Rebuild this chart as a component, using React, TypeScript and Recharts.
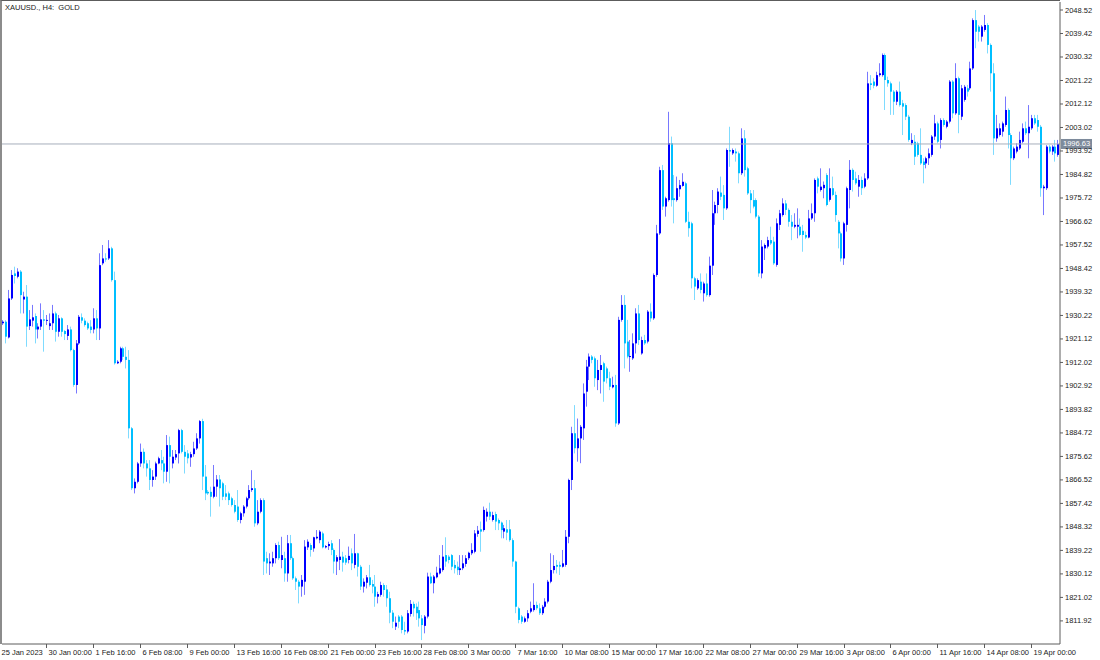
import React from 'react';
import { ComposedChart, Bar, XAxis, YAxis, ReferenceLine } from 'recharts';

const chartTitle = 'XAUUSD., H4:  GOLD';
const lastPrice = 1996.63;

// H4 candles, 25 Jan 2023 -> 20 Apr 2023
const opens = [
  1927.2, 1927.8, 1921.7, 1936.8, 1946.5, 1945.2, 1947.2, 1936.4, 1937.5, 1926.1,
  1928.2, 1930.0, 1924.8, 1925.9, 1928.7, 1928.2, 1926.1, 1927.2, 1931.0, 1923.9,
  1929.1, 1924.2, 1922.3, 1924.8, 1916.8, 1903.3, 1919.4, 1929.5, 1928.2, 1927.2,
  1925.9, 1924.8, 1929.1, 1925.2, 1950.4, 1952.3, 1952.3, 1956.2, 1943.9, 1911.7,
  1912.3, 1917.5, 1914.2, 1913.0, 1886.5, 1863.3, 1865.8, 1872.9, 1877.4, 1872.9,
  1871.0, 1866.5, 1867.8, 1872.9, 1874.2, 1872.9, 1869.7, 1880.0, 1872.9, 1875.2,
  1876.8, 1885.8, 1877.4, 1876.8, 1875.2, 1876.5, 1878.7, 1882.6, 1889.3, 1867.8,
  1861.9, 1861.9, 1860.0, 1863.9, 1866.7, 1865.2, 1861.3, 1861.3, 1859.4, 1856.8,
  1856.2, 1851.0, 1853.6, 1856.2, 1859.4, 1862.6, 1863.3, 1849.7, 1854.2, 1858.7,
  1836.2, 1834.2, 1834.2, 1836.2, 1841.3, 1835.5, 1836.2, 1830.3, 1842.0, 1836.2,
  1828.4, 1827.1, 1825.2, 1827.1, 1840.4, 1841.3, 1840.0, 1843.9, 1843.2, 1845.8,
  1840.4, 1840.9, 1842.0, 1839.4, 1834.9, 1835.5, 1836.8, 1836.2, 1835.5, 1838.1,
  1833.6, 1838.1, 1832.9, 1825.2, 1826.7, 1828.8, 1826.2, 1825.2, 1821.3, 1822.0,
  1825.8, 1824.1, 1820.7, 1815.1, 1809.7, 1813.6, 1813.6, 1808.4, 1807.8, 1814.6,
  1818.5, 1817.4, 1816.1, 1812.9, 1810.0, 1813.6, 1829.1, 1826.5, 1828.8, 1830.3,
  1831.6, 1837.4, 1836.8, 1837.4, 1833.6, 1832.9, 1831.6, 1832.3, 1834.0, 1836.2,
  1838.1, 1838.7, 1845.6, 1847.4, 1847.1, 1852.3, 1854.2, 1851.0, 1853.3, 1851.0,
  1850.0, 1846.5, 1847.4, 1847.4, 1843.2, 1834.9, 1816.8, 1813.6, 1811.6, 1812.9,
  1815.5, 1816.1, 1818.1, 1816.8, 1814.9, 1817.4, 1819.4, 1827.1, 1831.6, 1833.6,
  1833.6, 1832.9, 1833.6, 1844.5, 1866.5, 1884.6, 1878.8, 1882.6, 1886.5, 1900.7,
  1910.4, 1914.3, 1913.6, 1905.2, 1909.1, 1911.7, 1909.7, 1905.9, 1902.4, 1903.3,
  1888.4, 1928.5, 1934.3, 1920.1, 1914.3, 1913.6, 1919.4, 1931.0, 1915.5, 1920.7,
  1920.1, 1931.7, 1929.1, 1945.9, 1962.0, 1986.5, 1972.4, 1974.9, 1996.9, 1975.6,
  1974.9, 1979.1, 1980.4, 1981.4, 1966.5, 1965.9, 1944.6, 1940.7, 1943.3, 1938.8,
  1942.6, 1938.1, 1949.5, 1969.8, 1973.0, 1977.8, 1976.9, 1971.7, 1994.3, 1993.0,
  1993.7, 1993.0, 1985.3, 1998.8, 1987.2, 1977.5, 1974.9, 1974.9, 1968.5, 1946.5,
  1956.2, 1956.9, 1959.4, 1958.8, 1949.8, 1965.3, 1969.1, 1973.6, 1971.1, 1966.5,
  1964.6, 1964.6, 1964.6, 1963.0, 1961.4, 1960.4, 1967.8, 1969.8, 1983.3, 1978.8,
  1979.5, 1984.6, 1975.0, 1979.5, 1976.9, 1966.5, 1962.0, 1952.3, 1965.3, 1978.8,
  1986.6, 1983.3, 1980.1, 1982.7, 1980.1, 1983.3, 2020.1, 2020.8, 2019.2, 2023.3,
  2023.3, 2031.1, 2021.4, 2020.1, 2016.9, 2013.0, 2016.9, 2012.4, 2011.7, 2007.2,
  1996.9, 1997.5, 1996.9, 1992.4, 1989.8, 1989.1, 1991.1, 1992.4, 1999.5, 2004.6,
  1998.2, 2005.9, 2003.3, 2005.3, 2020.8, 2008.5, 2022.1, 2007.2, 2013.7, 2018.2,
  2018.2, 2025.9, 2044.6, 2042.1, 2038.2, 2040.8, 2042.7, 2035.0, 2024.0, 1998.8,
  2000.1, 2001.4, 2004.0, 2009.8, 2000.1, 1991.1, 1993.7, 1994.9, 1997.5, 2002.7,
  2000.8, 2002.7, 2006.6, 2005.9, 2003.3, 1979.5, 1979.5, 1995.6, 1993.7, 1995.6, 1992.4,
];

const highs = [
  1928.4, 1928.4, 1940.1, 1947.8, 1949.1, 1948.5, 1947.8, 1939.4, 1942.0, 1932.3,
  1934.3, 1931.0, 1927.2, 1934.9, 1932.3, 1930.4, 1931.0, 1934.3, 1931.7, 1930.4,
  1929.5, 1924.6, 1926.5, 1925.9, 1917.3, 1920.7, 1930.4, 1931.0, 1929.1, 1927.8,
  1928.4, 1933.0, 1932.3, 1954.3, 1957.5, 1954.3, 1959.4, 1956.8, 1947.2, 1912.9,
  1918.1, 1918.1, 1918.1, 1916.8, 1887.0, 1867.1, 1873.5, 1880.6, 1878.7, 1874.2,
  1874.2, 1870.3, 1873.6, 1875.5, 1878.1, 1875.5, 1883.9, 1883.3, 1878.1, 1878.1,
  1886.3, 1886.3, 1880.0, 1878.1, 1877.4, 1881.3, 1884.6, 1889.7, 1890.2, 1872.3,
  1862.6, 1863.9, 1872.3, 1868.4, 1868.4, 1865.8, 1864.5, 1862.0, 1860.0, 1858.7,
  1862.6, 1854.2, 1856.8, 1860.0, 1864.5, 1870.3, 1866.5, 1858.7, 1859.4, 1859.4,
  1838.7, 1838.1, 1838.7, 1842.0, 1842.6, 1844.5, 1838.7, 1845.2, 1845.2, 1836.8,
  1829.1, 1827.8, 1829.7, 1843.2, 1843.5, 1842.0, 1844.5, 1847.1, 1847.1, 1846.5,
  1841.3, 1842.6, 1843.2, 1840.0, 1837.4, 1843.6, 1838.7, 1837.4, 1840.7, 1840.0,
  1845.6, 1838.3, 1833.6, 1828.4, 1829.7, 1833.6, 1827.8, 1829.7, 1823.2, 1827.1,
  1826.5, 1825.8, 1823.2, 1816.1, 1813.6, 1814.2, 1814.2, 1811.6, 1816.1, 1820.0,
  1819.4, 1818.7, 1819.4, 1814.2, 1814.2, 1830.6, 1830.6, 1829.7, 1832.9, 1837.4,
  1841.3, 1844.3, 1837.4, 1837.8, 1835.5, 1834.9, 1837.4, 1837.4, 1837.4, 1838.7,
  1842.0, 1847.1, 1848.7, 1850.4, 1856.2, 1855.5, 1857.7, 1854.2, 1854.2, 1851.6,
  1850.4, 1849.1, 1851.0, 1851.0, 1843.9, 1835.2, 1817.4, 1814.2, 1813.6, 1816.1,
  1819.4, 1826.5, 1819.4, 1818.7, 1818.1, 1820.7, 1827.8, 1838.1, 1837.4, 1835.5,
  1834.9, 1839.4, 1847.1, 1867.0, 1887.1, 1895.5, 1890.3, 1887.8, 1903.9, 1913.0,
  1915.5, 1914.9, 1914.3, 1913.0, 1914.9, 1912.3, 1910.4, 1908.4, 1906.5, 1907.2,
  1929.7, 1938.1, 1938.1, 1928.5, 1920.7, 1923.3, 1933.0, 1934.3, 1922.0, 1922.7,
  1932.3, 1934.9, 1946.5, 1965.3, 1987.8, 1988.5, 1976.2, 2009.1, 1999.5, 1984.6,
  1984.0, 1982.7, 1985.3, 1982.0, 1970.4, 1966.5, 1945.2, 1944.6, 1946.5, 1943.3,
  1946.5, 1953.0, 1978.8, 1974.3, 1979.5, 1984.0, 1980.7, 1994.9, 2003.3, 1994.9,
  1994.9, 1993.7, 2002.7, 2002.0, 1987.8, 1978.8, 1978.8, 1975.6, 1969.1, 1959.4,
  1958.1, 1960.7, 1964.6, 1960.7, 1967.8, 1971.1, 1975.6, 1974.9, 1971.7, 1969.1,
  1969.8, 1971.7, 1967.8, 1965.3, 1962.7, 1971.1, 1973.6, 1983.3, 1984.0, 1987.2,
  1982.1, 1985.3, 1987.2, 1984.0, 1978.2, 1967.2, 1962.7, 1966.5, 1980.1, 1990.4,
  1987.2, 1985.9, 1984.6, 1984.0, 1985.3, 2024.6, 2023.3, 2022.1, 2024.6, 2027.9,
  2031.7, 2031.7, 2022.7, 2020.8, 2017.5, 2017.5, 2020.8, 2013.7, 2012.4, 2007.9,
  2000.8, 2000.1, 1997.5, 2002.7, 1991.1, 1991.7, 1994.9, 2000.1, 2007.9, 2005.3,
  2006.6, 2006.6, 2005.9, 2021.4, 2021.4, 2027.9, 2022.7, 2019.5, 2019.5, 2019.5,
  2028.5, 2045.3, 2048.5, 2042.7, 2042.7, 2046.6, 2043.4, 2035.6, 2027.9, 2007.9,
  2004.6, 2005.3, 2015.0, 2010.4, 2000.8, 1995.6, 1996.9, 2001.4, 2004.6, 2005.3,
  2011.7, 2007.9, 2007.9, 2007.9, 2004.0, 1980.8, 1996.2, 1996.2, 1996.2, 1998.2, 1998.2,
];

const lows = [
  1926.5, 1919.4, 1921.3, 1936.2, 1942.6, 1944.6, 1931.0, 1931.0, 1918.1, 1924.6,
  1925.9, 1919.4, 1921.3, 1924.6, 1916.2, 1926.5, 1924.6, 1924.6, 1920.1, 1922.0,
  1922.0, 1920.7, 1920.7, 1916.3, 1902.6, 1900.0, 1918.8, 1927.2, 1925.9, 1924.6,
  1923.3, 1923.3, 1920.7, 1920.7, 1949.7, 1951.0, 1951.7, 1943.3, 1911.2, 1911.4,
  1911.7, 1913.0, 1909.7, 1882.6, 1862.6, 1861.3, 1865.2, 1871.6, 1871.0, 1867.8,
  1862.6, 1863.9, 1866.5, 1872.6, 1870.3, 1865.2, 1865.8, 1865.2, 1871.0, 1874.2,
  1872.9, 1876.8, 1869.0, 1872.9, 1871.6, 1875.5, 1878.1, 1880.6, 1862.6, 1858.7,
  1860.7, 1852.3, 1859.4, 1860.0, 1856.2, 1858.7, 1858.7, 1856.8, 1856.2, 1853.6,
  1850.3, 1849.7, 1852.3, 1855.5, 1858.7, 1861.9, 1848.4, 1849.0, 1853.6, 1829.7,
  1830.3, 1829.7, 1832.9, 1834.2, 1835.5, 1832.3, 1827.1, 1827.1, 1835.5, 1827.8,
  1823.9, 1818.7, 1821.3, 1822.0, 1839.4, 1836.8, 1838.7, 1843.5, 1842.0, 1840.0,
  1840.0, 1839.4, 1837.4, 1830.3, 1829.7, 1831.6, 1831.0, 1833.6, 1834.2, 1831.6,
  1832.3, 1829.1, 1823.9, 1822.9, 1824.5, 1825.2, 1822.6, 1817.4, 1818.7, 1821.3,
  1821.3, 1817.4, 1811.0, 1809.1, 1808.4, 1809.1, 1807.1, 1806.5, 1807.1, 1813.6,
  1813.6, 1812.3, 1809.7, 1804.5, 1807.1, 1812.9, 1826.2, 1822.6, 1828.4, 1829.9,
  1831.0, 1832.9, 1834.2, 1831.6, 1830.3, 1829.7, 1829.7, 1831.6, 1832.9, 1835.5,
  1837.4, 1838.1, 1844.5, 1838.7, 1846.5, 1850.4, 1851.0, 1850.4, 1847.1, 1847.1,
  1843.9, 1843.9, 1843.2, 1842.6, 1832.9, 1814.9, 1811.0, 1810.8, 1811.2, 1811.6,
  1814.9, 1815.5, 1816.1, 1814.2, 1814.2, 1816.8, 1818.7, 1826.5, 1830.3, 1830.3,
  1829.7, 1832.6, 1832.9, 1842.0, 1862.6, 1876.8, 1873.6, 1873.0, 1882.0, 1894.9,
  1905.2, 1911.7, 1902.6, 1901.3, 1900.0, 1896.8, 1903.9, 1901.3, 1902.0, 1887.1,
  1887.8, 1927.8, 1909.7, 1913.6, 1908.4, 1913.0, 1915.5, 1918.8, 1915.0, 1918.8,
  1919.4, 1927.8, 1928.5, 1945.2, 1961.4, 1971.1, 1968.5, 1974.3, 1972.4, 1965.9,
  1974.3, 1976.2, 1980.1, 1966.0, 1960.7, 1940.7, 1936.2, 1940.1, 1938.8, 1935.6,
  1937.5, 1937.5, 1945.9, 1965.3, 1969.8, 1974.9, 1967.2, 1971.1, 1987.8, 1992.4,
  1989.8, 1981.4, 1984.6, 1984.0, 1976.9, 1969.8, 1971.7, 1967.8, 1945.2, 1944.6,
  1951.7, 1956.2, 1957.5, 1949.8, 1949.1, 1963.3, 1968.5, 1969.1, 1964.6, 1959.4,
  1964.0, 1960.1, 1960.9, 1954.9, 1959.8, 1960.1, 1967.2, 1966.5, 1977.5, 1978.2,
  1975.6, 1972.5, 1974.3, 1976.4, 1966.5, 1956.2, 1951.1, 1949.8, 1962.7, 1971.7,
  1978.2, 1980.8, 1976.2, 1976.9, 1979.5, 1982.7, 2017.5, 2018.2, 2018.8, 2022.7,
  2022.7, 2009.8, 2018.8, 2007.9, 2007.9, 2011.7, 2011.1, 2000.1, 2005.9, 1997.5,
  1996.2, 1988.5, 1991.7, 1988.5, 1981.4, 1987.2, 1988.5, 1991.7, 1998.2, 1996.9,
  1994.9, 2003.3, 2002.7, 2004.6, 2006.6, 2007.9, 2000.8, 2005.9, 2013.0, 2015.0,
  2017.5, 2025.3, 2033.7, 2036.3, 2036.3, 2040.1, 2031.7, 2016.9, 1992.4, 1997.5,
  1999.5, 1999.5, 2003.3, 1994.9, 1980.8, 1990.4, 1993.0, 1994.3, 1996.9, 2000.1,
  1991.1, 2002.1, 2004.0, 2001.4, 1976.2, 1969.1, 1978.8, 1993.0, 1992.4, 1989.8, 1991.7,
];

const closes = [
  1927.8, 1922.0, 1936.8, 1945.9, 1945.5, 1947.2, 1938.1, 1937.5, 1925.9, 1928.7,
  1929.5, 1924.8, 1925.9, 1928.7, 1928.2, 1928.5, 1927.2, 1931.0, 1923.9, 1929.1,
  1923.9, 1923.0, 1924.8, 1916.8, 1903.3, 1919.4, 1929.7, 1928.2, 1926.5, 1925.2,
  1924.6, 1929.1, 1925.2, 1949.7, 1952.3, 1951.9, 1956.2, 1943.9, 1911.7, 1912.3,
  1917.5, 1914.2, 1913.0, 1886.5, 1863.3, 1865.8, 1872.9, 1877.4, 1872.9, 1871.0,
  1866.5, 1867.8, 1872.9, 1874.9, 1872.9, 1869.7, 1880.0, 1875.5, 1875.5, 1876.5,
  1885.8, 1877.4, 1875.5, 1874.9, 1876.5, 1878.7, 1882.6, 1889.3, 1867.8, 1861.3,
  1861.3, 1860.0, 1863.9, 1866.7, 1863.3, 1860.0, 1860.0, 1858.7, 1856.8, 1854.2,
  1851.0, 1853.6, 1856.2, 1859.4, 1862.6, 1863.3, 1849.7, 1854.2, 1858.7, 1834.9,
  1834.2, 1834.9, 1836.2, 1841.3, 1836.2, 1837.4, 1830.3, 1842.0, 1836.2, 1828.4,
  1827.1, 1825.2, 1827.8, 1840.7, 1842.6, 1839.4, 1844.3, 1844.5, 1846.5, 1840.4,
  1840.9, 1841.7, 1839.4, 1834.9, 1836.6, 1836.8, 1834.5, 1834.5, 1837.1, 1834.2,
  1838.1, 1832.9, 1825.2, 1827.1, 1828.8, 1825.8, 1825.2, 1821.3, 1822.3, 1825.8,
  1823.9, 1820.7, 1815.1, 1811.6, 1811.2, 1811.6, 1808.4, 1807.8, 1814.9, 1818.5,
  1816.8, 1814.9, 1812.9, 1810.3, 1813.6, 1829.1, 1826.5, 1829.1, 1830.6, 1832.3,
  1836.8, 1834.9, 1835.5, 1832.9, 1832.3, 1831.6, 1832.3, 1834.2, 1836.2, 1838.3,
  1839.4, 1845.8, 1846.9, 1846.5, 1854.9, 1854.2, 1852.3, 1852.9, 1850.4, 1849.7,
  1847.1, 1847.8, 1846.1, 1843.2, 1834.9, 1817.4, 1812.3, 1811.6, 1812.9, 1814.9,
  1816.8, 1818.1, 1816.8, 1814.9, 1817.4, 1819.4, 1827.1, 1831.6, 1833.2, 1832.9,
  1832.9, 1834.2, 1844.5, 1866.5, 1884.6, 1878.8, 1882.6, 1887.1, 1900.0, 1910.4,
  1914.3, 1913.0, 1905.9, 1909.1, 1911.0, 1904.6, 1905.9, 1902.6, 1903.3, 1888.4,
  1928.5, 1934.3, 1919.4, 1914.3, 1914.5, 1919.4, 1931.0, 1920.7, 1920.7, 1919.4,
  1931.7, 1929.1, 1945.9, 1962.0, 1986.5, 1972.4, 1975.6, 1996.9, 1974.9, 1974.9,
  1979.5, 1980.7, 1982.0, 1966.5, 1964.0, 1944.6, 1941.4, 1943.9, 1940.1, 1942.6,
  1938.1, 1949.5, 1969.8, 1973.0, 1978.2, 1976.2, 1971.7, 1994.3, 1993.7, 1994.3,
  1993.0, 1985.3, 1998.8, 1986.5, 1977.5, 1974.9, 1972.4, 1968.5, 1946.5, 1956.9,
  1957.5, 1959.4, 1958.1, 1950.4, 1965.9, 1969.8, 1973.6, 1971.1, 1966.5, 1964.6,
  1965.3, 1965.3, 1961.4, 1961.4, 1960.4, 1967.8, 1969.8, 1982.7, 1980.1, 1980.1,
  1980.8, 1973.0, 1979.5, 1976.9, 1969.1, 1962.0, 1952.3, 1965.9, 1979.5, 1986.6,
  1982.7, 1981.4, 1982.7, 1979.5, 1983.3, 2020.1, 2019.5, 2019.2, 2023.3, 2024.0,
  2031.1, 2021.4, 2020.1, 2016.9, 2013.0, 2016.9, 2011.7, 2011.1, 2007.2, 1998.2,
  1998.2, 1991.7, 1992.4, 1989.1, 1988.5, 1991.1, 1993.0, 1999.5, 2004.6, 1997.5,
  2005.9, 2004.0, 2005.3, 2020.8, 2008.5, 2022.1, 2007.9, 2018.2, 2018.8, 2016.9,
  2025.9, 2044.6, 2040.1, 2040.1, 2042.1, 2042.7, 2035.0, 2024.0, 1998.8, 2002.7,
  2002.7, 2004.6, 2009.8, 2000.1, 1991.1, 1994.9, 1995.6, 1998.2, 2002.7, 2000.8,
  2003.3, 2006.6, 2004.6, 2003.3, 1979.5, 1980.1, 1995.6, 1993.7, 1995.6, 1993.0, 1996.63,
];

// time scale labels sit on every 16th bar
const timeTickBars = [0, 16, 32, 48, 64, 80, 96, 112, 128, 144, 160, 176, 192, 208, 224, 240, 256, 272, 288, 304, 320, 336, 352];
const timeTickLabels = [
  '25 Jan 2023', '30 Jan 00:00', '1 Feb 16:00', '6 Feb 08:00', '9 Feb 00:00', '13 Feb 16:00',
  '16 Feb 08:00', '21 Feb 00:00', '23 Feb 16:00', '28 Feb 08:00', '3 Mar 00:00', '7 Mar 16:00',
  '10 Mar 08:00', '15 Mar 00:00', '17 Mar 16:00', '22 Mar 08:00', '27 Mar 00:00', '29 Mar 16:00',
  '3 Apr 08:00', '6 Apr 00:00', '11 Apr 16:00', '14 Apr 08:00', '19 Apr 00:00',
];

const priceTicks = [
  2048.52, 2039.42, 2030.32, 2021.22, 2012.12, 2003.02, 1993.92, 1984.82, 1975.72,
  1966.62, 1957.52, 1948.42, 1939.32, 1930.22, 1921.12, 1912.02, 1902.92, 1893.82,
  1884.72, 1875.62, 1866.52, 1857.42, 1848.32, 1839.22, 1830.12, 1821.02, 1811.92,
];
const priceDomain = [1802.97, 2051.62];

const candles = opens.map((open, i) => ({
  idx: i,
  open,
  high: highs[i],
  low: lows[i],
  close: closes[i],
}));

const BULL = '#0000ff';
const BULL_WICK = '#7878ff';
const BEAR = '#00bfff';
const BEAR_WICK = '#7fdbff';
const AXIS = '#5c5c5c';
const FONT = "'Liberation Sans', Arial, sans-serif";

const Candle = (props: any) => {
  const { x, y, width, height, payload } = props;
  if (!payload || y == null) return null;
  const { open, high, low, close } = payload;
  const top = Math.min(y, y + height);
  const h = Math.abs(height);
  const span = high - low || 1;
  const toY = (v: number) => top + ((high - v) / span) * h;
  const cx = Math.round(x + width / 2);
  const up = close >= open;
  const yo = toY(open);
  const yc = toY(close);
  const bodyTop = Math.min(yo, yc);
  const bodyH = Math.max(1, Math.abs(yo - yc));
  return (
    <g>
      <rect x={cx - 1} y={top} width={1} height={Math.max(1, h)} fill={up ? BULL_WICK : BEAR_WICK} />
      <rect x={cx - 1} y={bodyTop} width={2} height={bodyH} fill={up ? BULL : BEAR} />
    </g>
  );
};

// MT5 puts the scale mark a little left of the bar centre, text starts just after it
const TimeTick = (props: any) => {
  const { x, y, payload } = props;
  const k = timeTickBars.indexOf(Number(payload.value));
  if (k < 0) return null;
  const tx = Math.round(x) - 3.5;
  return (
    <g>
      <line x1={tx} y1={y - 4} x2={tx} y2={y} stroke={AXIS} />
      <text x={tx + 2} y={y + 7} fontSize={7.5} fontFamily={FONT} fill="#1a1a1a" textAnchor="start">
        {timeTickLabels[k]}
      </text>
    </g>
  );
};

const PriceTick = (props: any) => {
  const { x, y, payload } = props;
  return (
    <text x={x} y={y + 2.5} fontSize={7.5} fontFamily={FONT} fill="#1a1a1a" textAnchor="start">
      {Number(payload.value).toFixed(2)}
    </text>
  );
};

const PriceTag = (props: any) => {
  const vb = props.viewBox || {};
  const left = (vb.x ?? 2) + (vb.width ?? 1058) + 1;
  const mid = vb.y ?? 145;
  return (
    <g>
      <rect x={left} y={mid - 5} width={31} height={10} fill="#7d8a9b" />
      <text x={left + 2} y={mid + 2.5} fontSize={7.5} fontFamily={FONT} fill="#ffffff" textAnchor="start">
        {lastPrice.toFixed(2)}
      </text>
    </g>
  );
};

export default function App() {
  return (
    <div style={{ position: 'absolute', left: 0, top: 0, width: 1100, height: 660, background: '#fff' }}>
      <ComposedChart
        width={1100}
        height={660}
        data={candles}
        margin={{ top: 2, right: 0, bottom: 0, left: 2 }}
      >
        <XAxis
          dataKey="idx"
          type="category"
          ticks={timeTickBars}
          interval={0}
          height={16}
          tickSize={4}
          tickMargin={0}
          axisLine={{ stroke: AXIS }}
          tickLine={false}
          tick={<TimeTick />}
        />
        <YAxis
          orientation="right"
          type="number"
          domain={priceDomain}
          allowDataOverflow
          ticks={priceTicks}
          interval={0}
          width={40}
          tickSize={3}
          tickMargin={2}
          axisLine={{ stroke: AXIS }}
          tickLine={{ stroke: AXIS }}
          tick={<PriceTick />}
        />
        <ReferenceLine
          y={lastPrice}
          stroke="#a6aebb"
          strokeWidth={1}
          label={(p: any) => <PriceTag {...p} />}
        />
        <Bar
          dataKey={(d: any) => [d.low, d.high]}
          shape={<Candle />}
          isAnimationActive={false}
        />
      </ComposedChart>
      <div
        style={{
          position: 'absolute',
          left: 0,
          top: 0,
          width: 1060,
          height: 644,
          boxSizing: 'border-box',
          borderTop: `1px solid ${AXIS}`,
          borderLeft: '2px solid #8c8c8c',
          pointerEvents: 'none',
        }}
      />
      <div
        style={{
          position: 'absolute',
          left: 5,
          top: 3,
          fontFamily: FONT,
          fontSize: 7.5,
          color: '#1a1a1a',
          whiteSpace: 'pre',
          lineHeight: '9px',
        }}
      >
        {chartTitle}
      </div>
    </div>
  );
}
